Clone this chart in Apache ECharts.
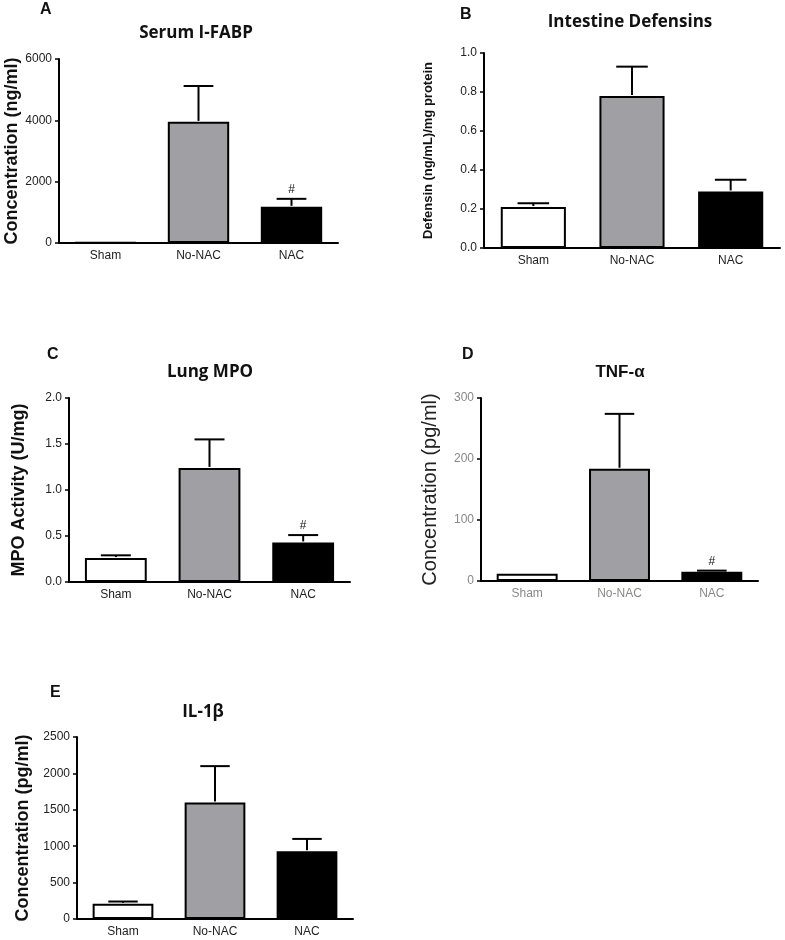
<!DOCTYPE html>
<html>
<head>
<meta charset="utf-8">
<script src="https://cdn.jsdelivr.net/npm/echarts@6/dist/echarts.min.js"></script>
<style>html,body{margin:0;padding:0;background:#fff;}#c{width:785px;height:940px;}</style>
</head>
<body>
<div id="c"></div>
<script>
// ---- data ----
var categories = ['Sham', 'No-NAC', 'NAC'];
var barColors = ['#ffffff', '#a0a0a4', '#000000'];

var fabpMean = [15, 3950, 1180];
var fabpSem = [0, 1170, 260];
var fabpHash = [false, false, true];

var defMean = [0.21, 0.78, 0.29];
var defSem = [0.02, 0.15, 0.06];
var defHash = [false, false, false];

var mpoMean = [0.26, 1.24, 0.43];
var mpoSem = [0.03, 0.31, 0.08];
var mpoHash = [false, false, true];

var tnfMean = [12, 184, 15];
var tnfSem = [0, 90, 2];
var tnfHash = [false, false, true];

var il1Mean = [210, 1600, 930];
var il1Sem = [30, 500, 170];
var il1Hash = [false, false, false];

var yTicksA = [0, 6000, 2000];
var yTicksB = [0, 1.0, 0.2];
var yTicksC = [0, 2.0, 0.5];
var yTicksD = [0, 300, 100];
var yTicksE = [0, 2500, 500];

// ---- layout ----
var panels = [
  {mean: fabpMean, sem: fabpSem, hash: fabpHash, ticks: yTicksA, dec: 0,
   grid: {left: 59, top: 59, width: 279, height: 184},
   yname: 'Concentration (ng/ml)', nameGap: 37, nameFont: {fontSize: 18, fontWeight: 'bold', color: '#111'},
   labelColor: '#222'},
  {mean: defMean, sem: defSem, hash: defHash, ticks: yTicksB, dec: 1,
   grid: {left: 484, top: 53, width: 296, height: 195},
   yname: 'Defensin (ng/mL)/mg protein', nameGap: 49, nameFont: {fontSize: 13, fontWeight: 'bold', color: '#111'},
   labelColor: '#222'},
  {mean: mpoMean, sem: mpoSem, hash: mpoHash, ticks: yTicksC, dec: 1,
   grid: {left: 69, top: 398, width: 281, height: 184},
   yname: 'MPO Activity (U/mg)', nameGap: 41, nameFont: {fontSize: 18, fontWeight: 'bold', color: '#111'},
   labelColor: '#222'},
  {mean: tnfMean, sem: tnfSem, hash: tnfHash, ticks: yTicksD, dec: 0,
   grid: {left: 481, top: 398, width: 277, height: 183},
   yname: 'Concentration (pg/ml)', nameGap: 41, nameFont: {fontSize: 20, fontWeight: 'normal', color: '#222'},
   labelColor: '#888'},
  {mean: il1Mean, sem: il1Sem, hash: il1Hash, ticks: yTicksE, dec: 0,
   grid: {left: 77, top: 737, width: 276, height: 182},
   yname: 'Concentration (pg/ml)', nameGap: 45, nameFont: {fontSize: 18, fontWeight: 'bold', color: '#111'},
   labelColor: '#222'}
];

var headers = [
  {t: 'A', x: 40, y: 10, letter: true}, {t: 'Serum I-FABP', x: 196, y: 33},
  {t: 'B', x: 460, y: 15, letter: true}, {t: 'Intestine Defensins', x: 630, y: 22},
  {t: 'C', x: 47, y: 355, letter: true}, {t: 'Lung MPO', x: 210, y: 372},
  {t: 'D', x: 462, y: 355, letter: true}, {t: 'TNF-α', x: 620, y: 372, arial: true},
  {t: 'E', x: 50, y: 693, letter: true}, {t: 'IL-1β', x: 203, y: 712}
];

var grids = [], xAxes = [], yAxes = [], series = [], graphics = [];
panels.forEach(function (p, i) {
  grids.push(p.grid);
  xAxes.push({
    type: 'category', gridIndex: i, data: categories,
    axisLine: {lineStyle: {color: '#000', width: 2}},
    axisTick: {alignWithLabel: true, length: 4, lineStyle: {color: '#000', width: 1.5}},
    axisLabel: {color: p.labelColor, fontFamily: 'Liberation Sans, Arial', fontSize: 12, margin: 7}
  });
  yAxes.push({
    type: 'value', gridIndex: i, min: p.ticks[0], max: p.ticks[1], interval: p.ticks[2],
    splitLine: {show: false},
    axisLine: {show: true, lineStyle: {color: '#000', width: 2}},
    axisTick: {show: true, length: 4, lineStyle: {color: '#000', width: 1.5}},
    axisLabel: {color: p.labelColor, fontFamily: 'Liberation Sans, Arial', fontSize: 12, margin: 7,
      formatter: (function (d) { return function (v) { return v.toFixed(d); }; })(p.dec)},
    name: p.yname, nameLocation: 'middle', nameRotate: 90, nameGap: p.nameGap,
    nameTextStyle: Object.assign({fontFamily: 'Liberation Sans, Arial'}, p.nameFont)
  });
  series.push({
    type: 'bar', xAxisIndex: i, yAxisIndex: i, barWidth: '66%', silent: true,
    data: p.mean.map(function (v, k) {
      return {value: v, itemStyle: {color: barColors[k], borderColor: '#000', borderWidth: 2}};
    })
  });
  series.push({
    type: 'custom', xAxisIndex: i, yAxisIndex: i, silent: true, z: 1,
    data: p.mean.map(function (v, k) { return [k, v, v + p.sem[k], p.hash[k] ? 1 : 0]; }),
    renderItem: function (params, api) {
      var k = api.value(0), lo = api.value(1), hi = api.value(2), h = api.value(3);
      var a = api.coord([k, lo]), b = api.coord([k, hi]);
      var cw = api.size([1, 0])[0] * 0.32;
      var children = [];
      if (hi > lo) {
        children.push({type: 'line', shape: {x1: b[0], y1: a[1] - 1, x2: b[0], y2: b[1]},
          style: {stroke: '#000', lineWidth: 2}});
        children.push({type: 'line', shape: {x1: b[0] - cw / 2, y1: b[1], x2: b[0] + cw / 2, y2: b[1]},
          style: {stroke: '#000', lineWidth: 2}});
      }
      if (h) {
        children.push({type: 'text', x: b[0], y: b[1] - 3,
          style: {text: '#', fill: '#111', font: '12px Liberation Sans, Arial', textAlign: 'center', textVerticalAlign: 'bottom'}});
      }
      return {type: 'group', children: children};
    }
  });
});

headers.forEach(function (h) {
  graphics.push({
    type: 'text', x: h.x, y: h.y,
    style: {
      text: h.t, fill: '#111',
      font: h.letter ? 'bold 16px Liberation Sans, Arial' : (h.arial ? 'bold 17px Liberation Sans, Arial' : 'bold 17px Open Sans, sans-serif'),
      textAlign: h.letter ? 'left' : 'center', textVerticalAlign: 'middle'
    }
  });
});

var chart = echarts.init(document.getElementById('c'), null, {renderer: 'canvas'});
chart.setOption({
  animation: false,
  backgroundColor: '#fff',
  grid: grids, xAxis: xAxes, yAxis: yAxes, series: series, graphic: graphics
});
</script>
</body>
</html>
